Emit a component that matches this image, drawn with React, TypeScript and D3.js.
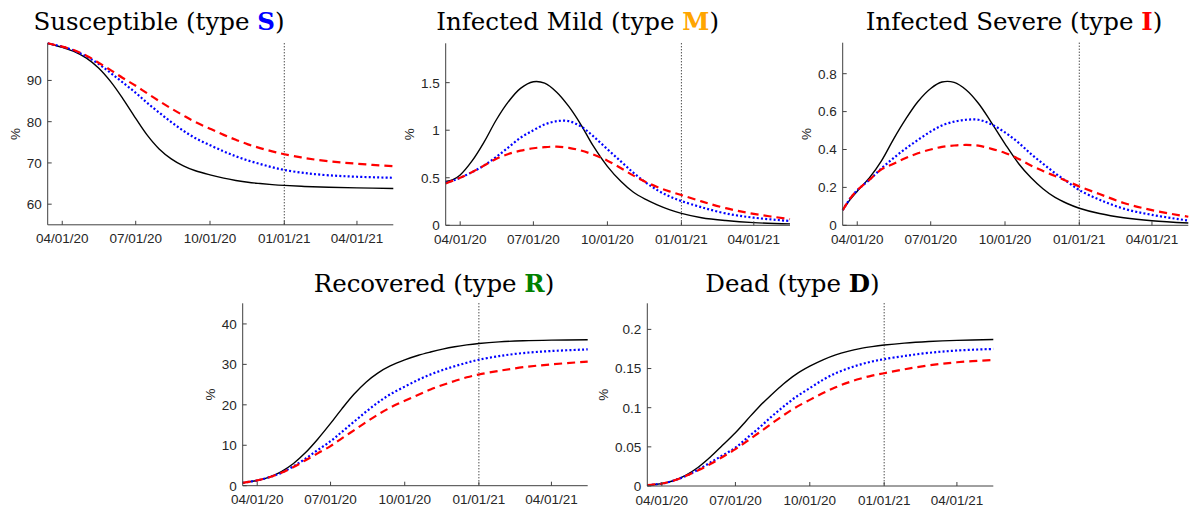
import React from "react";
import * as d3 from "d3";

// Sample dates (shared by all series)
const dates = [
  "2020-03-14", "2020-03-23", "2020-04-01", "2020-04-16", "2020-05-01", "2020-05-16",
  "2020-05-31", "2020-06-15", "2020-07-01", "2020-07-15", "2020-07-30", "2020-08-14",
  "2020-08-29", "2020-09-13", "2020-10-01", "2020-10-18", "2020-11-02", "2020-11-17",
  "2020-12-02", "2020-12-17", "2021-01-01", "2021-01-26", "2021-02-25", "2021-04-01",
  "2021-05-16",
];
const xStart = "2020-03-14";
const xEnd = "2021-05-16";
const xTickDates = ["2020-04-01", "2020-07-01", "2020-10-01", "2021-01-01", "2021-04-01"];
const markerDate = "2021-01-01";

// Susceptible
const susceptibleSolid = [99.0, 98.5, 98.0, 97.0, 95.4, 93.0, 89.7, 85.6, 80.8, 76.8, 73.4, 71.0, 69.3, 68.1, 67.1, 66.3, 65.75, 65.3, 65.0, 64.75, 64.55, 64.3, 64.1, 63.95, 63.8];
const susceptibleDotted = [99.0, 98.6, 98.2, 97.2, 95.8, 94.0, 91.8, 89.5, 87.0, 84.6, 82.2, 79.9, 77.8, 76.0, 74.3, 72.8, 71.6, 70.6, 69.75, 68.95, 68.3, 67.55, 67.0, 66.65, 66.4];
const susceptibleDashed = [99.0, 98.6, 98.2, 97.3, 96.0, 94.3, 92.5, 90.6, 88.7, 86.9, 85.0, 83.2, 81.5, 79.9, 78.3, 76.8, 75.6, 74.5, 73.6, 72.8, 72.1, 71.2, 70.4, 69.8, 69.2];

// Infected mild
const mildSolid = [0.46, 0.48, 0.53, 0.68, 0.88, 1.11, 1.30, 1.44, 1.51, 1.495, 1.40, 1.25, 1.06, 0.84, 0.62, 0.46, 0.35, 0.275, 0.215, 0.165, 0.126, 0.08, 0.05, 0.028, 0.015];
const mildDotted = [0.45, 0.47, 0.50, 0.56, 0.63, 0.72, 0.82, 0.92, 1.00, 1.06, 1.095, 1.095, 1.04, 0.94, 0.80, 0.67, 0.555, 0.455, 0.37, 0.305, 0.255, 0.19, 0.125, 0.08, 0.045];
const mildDashed = [0.44, 0.47, 0.50, 0.56, 0.63, 0.70, 0.75, 0.785, 0.81, 0.822, 0.827, 0.815, 0.787, 0.745, 0.68, 0.60, 0.525, 0.458, 0.403, 0.357, 0.318, 0.252, 0.18, 0.12, 0.065];

// Infected severe
const severeSolid = [0.08, 0.135, 0.18, 0.25, 0.34, 0.455, 0.56, 0.652, 0.722, 0.756, 0.754, 0.714, 0.644, 0.55, 0.43, 0.325, 0.252, 0.193, 0.147, 0.115, 0.09, 0.062, 0.04, 0.024, 0.012];
const severeDotted = [0.08, 0.14, 0.185, 0.24, 0.30, 0.355, 0.405, 0.45, 0.495, 0.527, 0.547, 0.557, 0.557, 0.535, 0.49, 0.435, 0.377, 0.325, 0.275, 0.23, 0.186, 0.135, 0.088, 0.055, 0.025];
const severeDashed = [0.08, 0.14, 0.185, 0.24, 0.295, 0.325, 0.355, 0.38, 0.40, 0.414, 0.421, 0.424, 0.42, 0.405, 0.382, 0.35, 0.316, 0.287, 0.26, 0.233, 0.205, 0.165, 0.118, 0.08, 0.045];

// Recovered
const recoveredSolid = [0.7, 1.0, 1.3, 2.13, 3.5, 5.5, 8.2, 11.5, 15.4, 19.0, 22.6, 25.6, 27.9, 29.6, 31.1, 32.25, 33.05, 33.76, 34.35, 34.81, 35.16, 35.56, 35.83, 35.99, 36.08];
const recoveredDotted = [0.7, 1.0, 1.3, 2.1, 3.2, 4.8, 6.7, 8.8, 11.0, 13.3, 15.8, 18.3, 20.6, 22.6, 24.5, 26.2, 27.5, 28.6, 29.55, 30.4, 31.15, 32.05, 32.8, 33.3, 33.7];
const recoveredDashed = [0.7, 1.0, 1.3, 2.1, 3.2, 4.6, 6.3, 8.0, 9.8, 11.7, 13.7, 15.7, 17.6, 19.3, 21.0, 22.5, 23.8, 24.9, 25.9, 26.8, 27.5, 28.4, 29.3, 30.0, 30.7];

// Dead
const deadSolid = [0.001, 0.002, 0.003, 0.007, 0.014, 0.024, 0.037, 0.052, 0.068, 0.084, 0.101, 0.116, 0.130, 0.142, 0.153, 0.1615, 0.1675, 0.172, 0.1755, 0.178, 0.180, 0.1825, 0.1845, 0.186, 0.187];
const deadDotted = [0.001, 0.002, 0.003, 0.007, 0.013, 0.021, 0.030, 0.039, 0.049, 0.061, 0.074, 0.088, 0.101, 0.113, 0.125, 0.136, 0.144, 0.150, 0.155, 0.159, 0.162, 0.166, 0.170, 0.173, 0.175];
const deadDashed = [0.001, 0.002, 0.003, 0.007, 0.013, 0.020, 0.028, 0.037, 0.047, 0.057, 0.068, 0.079, 0.090, 0.100, 0.110, 0.119, 0.126, 0.132, 0.137, 0.141, 0.144, 0.149, 0.154, 0.158, 0.161];

const susceptibleTicks = [60, 70, 80, 90];
const mildTicks = [0, 0.5, 1, 1.5];
const severeTicks = [0, 0.2, 0.4, 0.6, 0.8];
const recoveredTicks = [0, 10, 20, 30, 40];
const deadTicks = [0, 0.05, 0.1, 0.15, 0.2];

const panels = [
  { title: "Susceptible", letter: "S", letterColor: "#0000ff", solid: susceptibleSolid, dotted: susceptibleDotted, dashed: susceptibleDashed, yDomain: [55, 99], yTicks: susceptibleTicks, left: 47.7, right: 393.3, top: 43.3, bottom: 224.8, titleX: 159, titleY: 30 },
  { title: "Infected Mild", letter: "M", letterColor: "#ffa500", solid: mildSolid, dotted: mildDotted, dashed: mildDashed, yDomain: [0, 1.914], yTicks: mildTicks, left: 445.7, right: 790, top: 43.3, bottom: 225.3, titleX: 577.6, titleY: 30 },
  { title: "Infected Severe", letter: "I", letterColor: "#ff0000", solid: severeSolid, dotted: severeDotted, dashed: severeDashed, yDomain: [0, 0.9636], yTicks: severeTicks, left: 842.7, right: 1188.3, top: 42.7, bottom: 225.3, titleX: 1014, titleY: 30 },
  { title: "Recovered", letter: "R", letterColor: "#008000", solid: recoveredSolid, dotted: recoveredDotted, dashed: recoveredDashed, yDomain: [0, 45.1], yTicks: recoveredTicks, left: 242.7, right: 587.7, top: 303.3, bottom: 485.7, titleX: 434, titleY: 291.7 },
  { title: "Dead", letter: "D", letterColor: "#000000", solid: deadSolid, dotted: deadDotted, dashed: deadDashed, yDomain: [0, 0.2333], yTicks: deadTicks, left: 647.3, right: 993.3, top: 303.3, bottom: 486, titleX: 792.5, titleY: 291.7 },
];

const parse = d3.timeParse("%Y-%m-%d");
const fmtX = d3.timeFormat("%m/%d/%y");
const fmtY = d3.format("~g");
const AXIS = "#404040";
const TICK_FONT = "'Liberation Sans', Arial, sans-serif";
const TICK_SIZE = 13.5;

function approxWidth(s: string) {
  let w = 0;
  for (const c of s) w += c === "." ? 0.278 : 0.556;
  return w * TICK_SIZE;
}

function Panel({ p }: { p: (typeof panels)[number] }) {
  const x = d3.scaleTime().domain([parse(xStart)!, parse(xEnd)!]).range([p.left, p.right]);
  const y = d3.scaleLinear().domain(p.yDomain).range([p.bottom, p.top]);
  const pts = dates.map((d) => parse(d)!);
  const line = d3
    .line<number>()
    .x((_, i) => x(pts[i]))
    .y((v) => y(v))
    .curve(d3.curveCatmullRom.alpha(0.5));
  const labels = p.yTicks.map((t) => fmtY(t));
  const maxW = Math.max(...labels.map(approxWidth));
  const yLabelX = p.left - 6 - maxW - 12;
  const mx = x(parse(markerDate)!);
  return (
    <g>
      <line x1={mx} x2={mx} y1={p.top} y2={p.bottom} stroke="#000" strokeWidth={1} strokeDasharray="1 2" />
      <path d={line(p.solid)!} fill="none" stroke="#000" strokeWidth={1.4} />
      <path d={line(p.dotted)!} fill="none" stroke="#0000ff" strokeWidth={2.2} strokeDasharray="2 2.2" />
      <path d={line(p.dashed)!} fill="none" stroke="#ff0000" strokeWidth={2.2} strokeDasharray="8 5" />
      <line x1={p.left} x2={p.left} y1={p.top} y2={p.bottom} stroke={AXIS} strokeWidth={1} />
      <line x1={p.left} x2={p.right} y1={p.bottom} y2={p.bottom} stroke={AXIS} strokeWidth={1} />
      {xTickDates.map((d) => {
        const tx = x(parse(d)!);
        return (
          <g key={d}>
            <line x1={tx} x2={tx} y1={p.bottom} y2={p.bottom - 4} stroke={AXIS} strokeWidth={1} />
            <text x={tx} y={p.bottom + 18.5} textAnchor="middle" fontFamily={TICK_FONT} fontSize={TICK_SIZE} fill="#262626">
              {fmtX(parse(d)!)}
            </text>
          </g>
        );
      })}
      {p.yTicks.map((t, i) => {
        const ty = y(t);
        return (
          <g key={t}>
            <line x1={p.left} x2={p.left + 4} y1={ty} y2={ty} stroke={AXIS} strokeWidth={1} />
            <text x={p.left - 6} y={ty} dy="0.36em" textAnchor="end" fontFamily={TICK_FONT} fontSize={TICK_SIZE} fill="#262626">
              {labels[i]}
            </text>
          </g>
        );
      })}
      <text
        transform={`translate(${yLabelX},${(p.top + p.bottom) / 2}) rotate(-90)`}
        textAnchor="middle"
        dy="0.36em"
        fontFamily={TICK_FONT}
        fontSize={13.5}
        fill="#262626"
      >
        %
      </text>
      <text x={p.titleX} y={p.titleY} textAnchor="middle" fontFamily="'DejaVu Serif', serif" fontSize={24.5} fill="#000">
        {p.title} (type{" "}
        <tspan fontWeight="bold" fill={p.letterColor}>
          {p.letter}
        </tspan>
        )
      </text>
    </g>
  );
}

export default function App() {
  return (
    <svg
      width={1192}
      height={511}
      viewBox="0 0 1192 511"
      style={{ position: "absolute", left: 0, top: 0, background: "#fff", display: "block" }}
    >
      <rect width={1192} height={511} fill="#fff" />
      {panels.map((p) => (
        <Panel key={p.title} p={p} />
      ))}
    </svg>
  );
}
